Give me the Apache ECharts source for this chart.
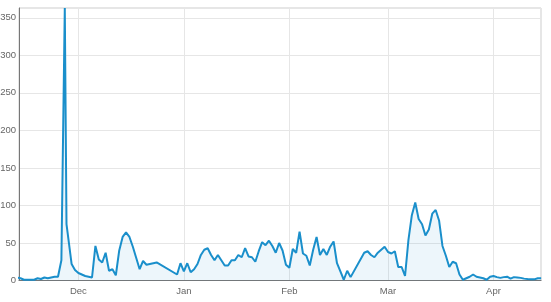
<!DOCTYPE html>
<html>
<head>
<meta charset="utf-8">
<script src="https://cdn.jsdelivr.net/npm/echarts@6/dist/echarts.min.js"></script>
<style>
html,body{margin:0;padding:0;background:#fff;}
#chart{width:551px;height:302px;}
</style>
</head>
<body>
<div id="chart"></div>
<script>
// Daily counts, Nov 2015 – Apr 2016
var dates = [
  '2015-11-13','2015-11-14','2015-11-15','2015-11-16','2015-11-17','2015-11-18','2015-11-19','2015-11-20',
  '2015-11-21','2015-11-22','2015-11-23','2015-11-24','2015-11-25','2015-11-26','2015-11-27','2015-11-27 12:00',
  '2015-11-29','2015-11-30','2015-12-01','2015-12-02','2015-12-03','2015-12-04','2015-12-05','2015-12-06',
  '2015-12-07','2015-12-08','2015-12-09','2015-12-10','2015-12-11','2015-12-12','2015-12-13','2015-12-14',
  '2015-12-15','2015-12-16','2015-12-17','2015-12-18','2015-12-19','2015-12-20','2015-12-21','2015-12-22',
  '2015-12-23','2015-12-24','2015-12-30','2015-12-31','2016-01-01','2016-01-02','2016-01-03','2016-01-04',
  '2016-01-05','2016-01-06','2016-01-07','2016-01-08','2016-01-09','2016-01-10','2016-01-11','2016-01-12',
  '2016-01-13','2016-01-14','2016-01-15','2016-01-16','2016-01-17','2016-01-18','2016-01-19','2016-01-20',
  '2016-01-21','2016-01-22','2016-01-23','2016-01-24','2016-01-25','2016-01-26','2016-01-27','2016-01-28',
  '2016-01-29','2016-01-30','2016-01-31','2016-02-01','2016-02-02','2016-02-03','2016-02-04','2016-02-05',
  '2016-02-06','2016-02-07','2016-02-08','2016-02-09','2016-02-10','2016-02-11','2016-02-12','2016-02-13',
  '2016-02-14','2016-02-15','2016-02-16','2016-02-17','2016-02-18','2016-02-19','2016-02-23','2016-02-24',
  '2016-02-25','2016-02-26','2016-02-27','2016-02-28','2016-02-29','2016-03-01','2016-03-02','2016-03-03',
  '2016-03-04','2016-03-05','2016-03-06','2016-03-07','2016-03-08','2016-03-09','2016-03-10','2016-03-11',
  '2016-03-12','2016-03-13','2016-03-14','2016-03-15','2016-03-16','2016-03-17','2016-03-18','2016-03-19',
  '2016-03-20','2016-03-21','2016-03-22','2016-03-23','2016-03-24','2016-03-25','2016-03-26','2016-03-27',
  '2016-03-28','2016-03-29','2016-03-30','2016-03-31','2016-04-01','2016-04-02','2016-04-03','2016-04-04',
  '2016-04-05','2016-04-06','2016-04-07','2016-04-08','2016-04-09','2016-04-10','2016-04-11','2016-04-12',
  '2016-04-13','2016-04-14','2016-04-15'
];
var values = [
  4,3,1,1,1,1,3,2,
  4,3,4,5,5,27,363,75,
  22,14,10,8,6,5,4,46,
  28,24,37,13,15,7,40,58,
  64,58,45,30,15,26,21,22,
  23,24,8,23,12,23,11,15,
  22,34,41,43,34,27,34,27,
  20,20,27,27,34,31,43,32,
  31,25,39,51,47,53,46,37,
  50,40,21,17,42,37,65,36,
  33,20,41,58,34,42,34,45,
  52,23,12,1,13,4.5,37,39,
  34,31,37,41,45,38,36,39,
  18,18,6,54,87,104,82,75,
  60,68,89,94,80,46,33,18,
  25,23,8,1,3,5,8,5,
  4,3,1,5,6,4.5,3.5,4.5,
  5,2.5,4.5,4,3.5,2.5,2,1.7,
  1.5,3,3
];
var yTicks = [0, 50, 100, 150, 200, 250, 300, 350];
var monthNames = ['Jan','Feb','Mar','Apr','May','Jun','Jul','Aug','Sep','Oct','Nov','Dec'];

function parseLocal(s) {
  var p = s.split(/[- :]/).map(Number);
  return new Date(p[0], p[1] - 1, p[2], p[3] || 0, p[4] || 0).getTime();
}
var seriesData = dates.map(function (d, i) { return [parseLocal(d), values[i]]; });

var chart = echarts.init(document.getElementById('chart'), null, {renderer: 'canvas'});
chart.setOption({
  animation: false,
  grid: {left: 19, right: 10, top: 8, bottom: 21.5, show: true, borderColor: '#cccccc', borderWidth: 1,
         containLabel: false, outerBoundsMode: 'none'},
  xAxis: {
    type: 'time',
    min: parseLocal('2015-11-13 13:00'),
    max: parseLocal('2016-04-14 23:00'),
    minInterval: 28 * 86400000,
    splitNumber: 5,
    axisLine: {show: true, lineStyle: {color: '#777', width: 1}},
    axisTick: {show: false},
    splitLine: {show: true, lineStyle: {color: '#e6e6e6', width: 1}},
    axisLabel: {
      color: '#666', fontSize: 9.5, fontFamily: 'Liberation Sans, Arial, sans-serif', margin: 6,
      showMinLabel: false, showMaxLabel: false,
      formatter: function (v) { return monthNames[new Date(v).getMonth()]; }
    }
  },
  yAxis: {
    type: 'value',
    min: yTicks[0],
    max: 363,
    interval: 50,
    axisLine: {show: true, lineStyle: {color: '#777', width: 1}},
    axisTick: {show: false},
    splitLine: {show: true, lineStyle: {color: '#e6e6e6', width: 1}},
    axisLabel: {
      color: '#666', fontSize: 9.5, fontFamily: 'Liberation Sans, Arial, sans-serif', margin: 3,
      showMaxLabel: false,
      formatter: function (v) { return yTicks.indexOf(v) >= 0 ? String(v) : ''; }
    }
  },
  series: [{
    type: 'line',
    data: seriesData,
    showSymbol: false,
    symbol: 'none',
    smooth: false,
    clip: true,
    lineStyle: {color: '#1a8fcb', width: 2},
    areaStyle: {color: 'rgba(26,143,203,0.11)'}
  }]
});
</script>
</body>
</html>
